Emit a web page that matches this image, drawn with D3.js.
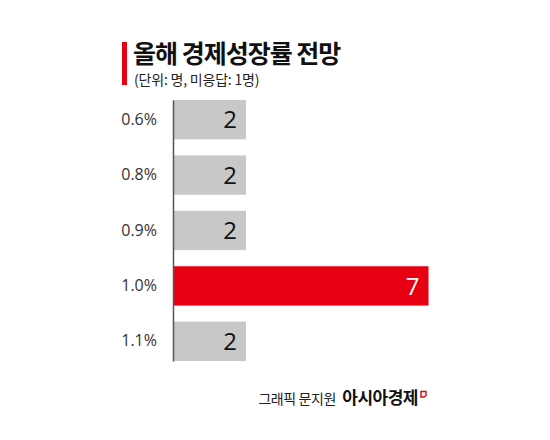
<!DOCTYPE html>
<html>
<head>
<meta charset="utf-8">
<script src="https://cdn.jsdelivr.net/npm/d3@7"></script>
<style>
  html, body { margin: 0; padding: 0; background: #fff; }
  svg { display: block; }
</style>
</head>
<body>
<div id="chart"></div>
<script>
const categories = ["0.6%", "0.8%", "0.9%", "1.0%", "1.1%"]
const values = [2, 2, 2, 7, 2]
const highlight = ["1.0%"]
const title = "올해 경제성장률 전망"
const subtitle = "(단위: 명, 미응답: 1명)"
const credit = "그래픽 문지원"
const brand = "아시아경제"

const width = 550, height = 440
const font = "'Noto Sans CJK KR', 'Noto Sans', sans-serif"
const latin = "'Open Sans', 'Noto Sans', sans-serif"

const svg = d3.select("#chart").append("svg")
  .attr("width", width)
  .attr("height", height)
  .attr("font-family", font)

const x = d3.scaleLinear().domain([0, 7]).range([173, 428.5])
const y = d3.scaleBand().domain(categories).range([100, 361]).paddingInner(0.29).paddingOuter(0)

// title block
svg.append("rect").attr("x", 122).attr("y", 42).attr("width", 5).attr("height", 43).attr("fill", "#e60012")
svg.append("text").attr("x", 133).attr("y", 62.5)
  .attr("font-size", 25).attr("font-weight", 700).attr("fill", "#111")
  .attr("letter-spacing", -1)
  .text(title)
svg.append("text").attr("x", 134).attr("y", 84.5)
  .attr("font-size", 14).attr("fill", "#222")
  .attr("letter-spacing", -0.2)
  .text(subtitle)

// bars
const rows = categories.map((c, i) => ({c, v: values[i]}))

svg.append("g").selectAll("rect")
  .data(rows)
  .join("rect")
  .attr("x", x(0))
  .attr("y", d => y(d.c))
  .attr("width", d => x(d.v) - x(0))
  .attr("height", y.bandwidth())
  .attr("fill", d => highlight.includes(d.c) ? "#e60012" : "#c8c8c8")

svg.append("g").selectAll("text")
  .data(rows)
  .join("text")
  .attr("x", d => x(d.v) - 9)
  .attr("y", d => y(d.c) + y.bandwidth() / 2)
  .attr("dy", "0.36em")
  .attr("text-anchor", "end")
  .attr("font-family", latin)
  .attr("font-size", 24)
  .attr("fill", d => highlight.includes(d.c) ? "#fff" : "#111")
  .text(d => d.v)

// axis
const axis = svg.append("g")
  .attr("transform", `translate(${x(0)},0)`)
  .call(d3.axisLeft(y).tickSize(0).tickPadding(16))
axis.attr("font-family", latin).attr("font-size", 16)
axis.select(".domain").attr("stroke", "#555").attr("stroke-width", 1.5)
axis.selectAll("text")
  .attr("font-size", 16)
  .attr("fill", "#333")

// footer
svg.append("text").attr("x", 336).attr("y", 404)
  .attr("text-anchor", "end")
  .attr("font-size", 14).attr("fill", "#222").attr("letter-spacing", -0.4)
  .text(credit)
svg.append("text").attr("x", 418).attr("y", 404)
  .attr("text-anchor", "end")
  .attr("font-size", 17).attr("font-weight", 700).attr("fill", "#111").attr("letter-spacing", -0.5)
  .text(brand)
svg.append("path")
  .attr("d", "M421,391.5 h5 v4 l-2,1.5 h-3 z")
  .attr("fill", "none").attr("stroke", "#e60012").attr("stroke-width", 1.4)
</script>
</body>
</html>
